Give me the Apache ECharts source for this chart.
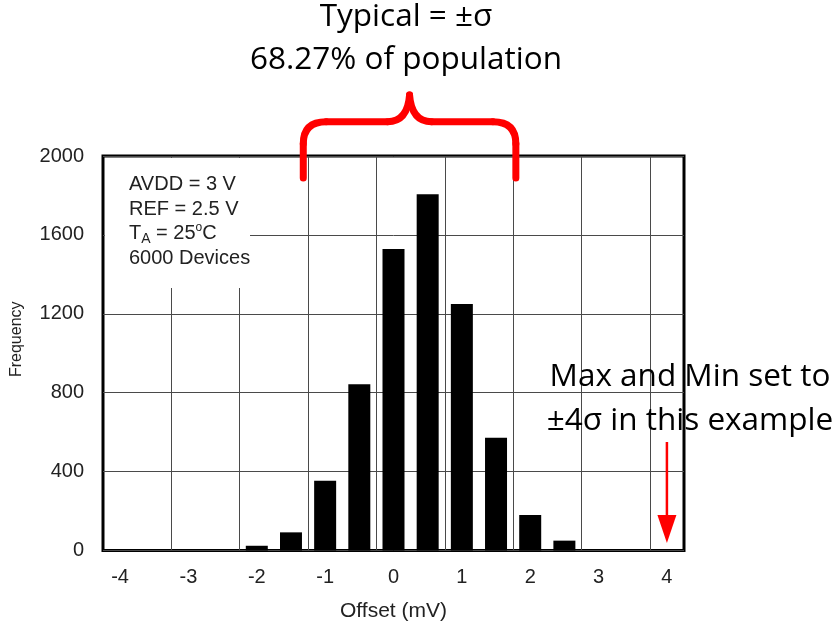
<!DOCTYPE html>
<html>
<head>
<meta charset="utf-8">
<script src="https://cdn.jsdelivr.net/npm/echarts@6/dist/echarts.min.js"></script>
<style>
  html, body { margin: 0; padding: 0; background: #fff; }
  #main { width: 836px; height: 621px; }
</style>
</head>
<body>
<div id="main"></div>
<script>
// histogram bins (offset in mV) and their counts
var offsets = [-2, -1.5, -1, -0.5, 0, 0.5, 1, 1.5, 2, 2.5];
var counts = [24, 92, 354, 843, 1529, 1806, 1250, 572, 180, 50];
var xTickLabels = [-4, -3, -2, -1, 0, 1, 2, 3, 4];
var xGridLines = [-3.25, -2.25, -1.25, -0.25, 0.75, 1.75, 2.75, 3.75];
var yTickLabels = [0, 400, 800, 1200, 1600, 2000];

// annotation anchors (data units)
var braceFrom = -1.32;
var braceTo = 1.79;
var arrowAt = 4;

var axisFont = '"Liberation Sans", Arial, sans-serif';
var noteFont = '"Open Sans", sans-serif';

var chart = echarts.init(document.getElementById('main'));
chart.setOption({
  animation: false,
  backgroundColor: '#fff',
  grid: {
    show: true,
    left: 103,
    right: 152,
    top: 156,
    bottom: 70.5,
    borderColor: '#000',
    borderWidth: 3,
    outerBoundsMode: 'none'
  },
  xAxis: {
    type: 'value',
    min: -4.25,
    max: 4.25,
    name: 'Offset (mV)',
    nameLocation: 'middle',
    nameGap: 50,
    nameTextStyle: { fontFamily: axisFont, fontSize: 21, color: '#222' },
    axisLine: { show: false },
    axisTick: { show: false, customValues: xGridLines },
    axisLabel: {
      customValues: xTickLabels,
      margin: 17,
      fontFamily: axisFont,
      fontSize: 20,
      color: '#222'
    },
    splitLine: { show: true, lineStyle: { color: '#4a4a4a', width: 1 } }
  },
  yAxis: {
    type: 'value',
    min: yTickLabels[0],
    max: yTickLabels[yTickLabels.length - 1],
    interval: 400,
    name: 'Frequency',
    nameLocation: 'middle',
    nameGap: 78,
    nameTextStyle: { fontFamily: axisFont, fontSize: 16, color: '#222', padding: [0, 0, 0, 28] },
    axisLine: { show: false },
    axisTick: { show: false },
    axisLabel: {
      margin: 19, fontFamily: axisFont, fontSize: 20, color: '#222',
      formatter: function (v) { return String(v); }
    },
    splitLine: { show: true, lineStyle: { color: '#4a4a4a', width: 1 } }
  },
  series: [{
    type: 'bar',
    barWidth: 22,
    itemStyle: { color: '#000' },
    data: offsets.map(function (x, i) { return [x, counts[i]]; })
  }]
});

// annotations, placed from the axis scale
function px(x, y) { return chart.convertToPixel({ gridIndex: 0 }, [x, y]); }
var xl = px(braceFrom, 0)[0];
var xr = px(braceTo, 0)[0];
var xm = (xl + xr) / 2;
var yEnd = 178, yBar = 121.7, yPeak = 95;
var red = '#ff0000';
var braceStyle = { stroke: red, lineWidth: 7, fill: null, lineCap: 'round' };

function seg(x1, y1, x2, y2) {
  return { type: 'line', z: 5, shape: { x1: x1, y1: y1, x2: x2, y2: y2 }, style: braceStyle };
}
function curve(x1, y1, cx, cy, x2, y2) {
  return { type: 'bezierCurve', z: 5, shape: { x1: x1, y1: y1, cpx1: cx, cpy1: cy, x2: x2, y2: y2 }, style: braceStyle };
}

var ax = px(arrowAt, 0)[0];

chart.setOption({
  graphic: [
    {
      type: 'rect', z: 1,
      shape: { x: 105, y: 158, width: 145, height: 130 },
      style: { fill: '#fff' }
    },
    {
      type: 'text', z: 2,
      style: {
        x: 129, y: 172,
        text: '{n|AVDD = 3 V}\n{n|REF = 2.5 V}\n{n|T}{s|A}{n| = 25}{u|o}{n|C}\n{n|6000 Devices}',
        fill: '#222',
        rich: {
          n: { fontFamily: axisFont, fontSize: 20, lineHeight: 24.7, verticalAlign: 'middle', fill: '#222' },
          s: { fontFamily: axisFont, fontSize: 14, lineHeight: 8, verticalAlign: 'bottom', fill: '#222' },
          u: { fontFamily: axisFont, fontSize: 12, lineHeight: 17, verticalAlign: 'top', fill: '#222' }
        }
      }
    },
    // curly brace over the +/- sigma range
    seg(xl, yEnd, xl, yBar + 22),
    curve(xl, yBar + 22, xl, yBar, xl + 23, yBar),
    seg(xl + 23, yBar, xm - 22, yBar),
    curve(xm - 22, yBar, xm - 2, yBar, xm, yPeak),
    curve(xm, yPeak, xm + 2, yBar, xm + 22, yBar),
    seg(xm + 22, yBar, xr - 23, yBar),
    curve(xr - 23, yBar, xr, yBar, xr, yBar + 22),
    seg(xr, yBar + 22, xr, yEnd),
    // arrow at the max limit
    {
      type: 'line', z: 5,
      shape: { x1: ax, y1: 442, x2: ax, y2: 518 },
      style: { stroke: red, lineWidth: 2.5 }
    },
    {
      type: 'polygon', z: 5,
      shape: { points: [[ax - 9.5, 515], [ax + 9.5, 515], [ax, 543]] },
      style: { fill: red }
    },
    {
      type: 'text', z: 5,
      style: { x: 406, y: 17, text: 'Typical = ±σ', align: 'center', verticalAlign: 'middle', font: '31.5px ' + noteFont, fill: '#000' }
    },
    {
      type: 'text', z: 5,
      style: { x: 406, y: 60, text: '68.27% of population', align: 'center', verticalAlign: 'middle', font: '31.5px ' + noteFont, fill: '#000' }
    },
    {
      type: 'text', z: 5,
      style: { x: 690, y: 377, text: 'Max and Min set to', align: 'center', verticalAlign: 'middle', font: '31.5px ' + noteFont, fill: '#000' }
    },
    {
      type: 'text', z: 5,
      style: { x: 690, y: 421, text: '±4σ in this example', align: 'center', verticalAlign: 'middle', font: '31.5px ' + noteFont, fill: '#000' }
    }
  ]
});
</script>
</body>
</html>
